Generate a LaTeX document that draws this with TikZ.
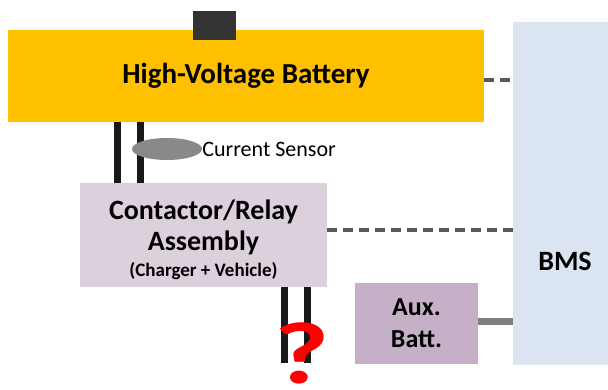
\documentclass[tikz,border=0pt]{standalone}
\usepackage{fontspec}
\setmainfont{Carlito}
\usepackage{xcolor}
\usepackage{tikz}
\usetikzlibrary{arrows.meta,positioning,shapes.geometric,calc}
\definecolor{hvorange}{HTML}{FFC000}
\definecolor{termgray}{HTML}{333333}
\definecolor{bmsblue}{HTML}{DAE5F1}
\definecolor{relaypink}{HTML}{DDD0DD}
\definecolor{auxpurple}{HTML}{C5B0C8}
\definecolor{sensorgray}{HTML}{898989}
\definecolor{linegray}{HTML}{595959}
\definecolor{busgray}{HTML}{7F7F7F}
\definecolor{qred}{HTML}{FF0000}
\tikzset{
  block/.style={draw=none, align=center, inner sep=0pt, font=\bfseries},
  wire/.style={line width=7pt, draw=black!90},
  dashlink/.style={line width=4pt, draw=linegray, dash pattern=on 10pt off 6pt},
  buslink/.style={line width=7pt, draw=busgray}
}

\begin{document}
\begin{tikzpicture}[x=1pt, y=-1pt]
  \useasboundingbox (0,0) rectangle (608,390);

  \node[block, fill=bmsblue, minimum width=97pt, minimum height=343pt] (bms) at (561.5,193.5) {};
  \node[block, font=\bfseries\fontsize{28}{32}\selectfont] (bmslabel) at (565,261) {BMS};

  \node[block, fill=hvorange, minimum width=476pt, minimum height=92pt,
        font=\bfseries\fontsize{29}{33}\selectfont] (battery) at (246,76) {High-Voltage Battery};
  \node[block, fill=termgray, minimum width=43pt, minimum height=29pt] (terminal) at (214.5,25.5) {};

  \node[block, fill=relaypink, minimum width=247pt, minimum height=104pt] (contactor) at (203.5,235) {};
  \node[block, font=\bfseries\fontsize{28}{31}\selectfont] (contactortext) at (203.5,240)
        {Contactor/Relay\\Assembly\\[-5pt]{\fontsize{19}{20}\selectfont(Charger + Vehicle)}};

  \node[block, fill=auxpurple, minimum width=123pt, minimum height=81pt,
        font=\bfseries\fontsize{26}{32}\selectfont] (auxbatt) at (416.5,323.5) {Aux.\\Batt.};

  % high-voltage wires
  \draw[wire] ([xshift=38pt]contactor.north west) -- ([xshift=38pt]contactor.north west |- battery.south);
  \draw[wire] ([xshift=61pt]contactor.north west) -- ([xshift=61pt]contactor.north west |- battery.south);
  \node[ellipse, fill=sensorgray, minimum width=70pt, minimum height=22pt, inner sep=0pt] (sensor) at (167,149) {};
  \node[anchor=west, inner sep=0pt, font=\fontsize{22}{24}\selectfont] (sensorlabel) at (sensor.east) {Current Sensor};

  \coordinate (plugA) at (284,363);
  \coordinate (plugB) at (307.5,363);
  \draw[wire] (plugA |- contactor.south) -- (plugA);
  \draw[wire] (plugB |- contactor.south) -- (plugB);
  \node[anchor=base, inner sep=0pt, text=qred, xscale=1.35, transform shape,
        font=\bfseries\fontsize{88}{88}\selectfont] (question) at (302,383) {?};

  % BMS links
  \draw[dashlink] ([yshift=-4pt]battery.east) -- ([yshift=-4pt]battery.east -| bms.west);
  \draw[dashlink] ([yshift=5pt]contactor.east) -- ([yshift=5pt]contactor.east -| bms.west);
  \draw[buslink] ([yshift=2.5pt]auxbatt.east) -- ([yshift=2.5pt]auxbatt.east -| bms.west);
\end{tikzpicture}
\end{document}
